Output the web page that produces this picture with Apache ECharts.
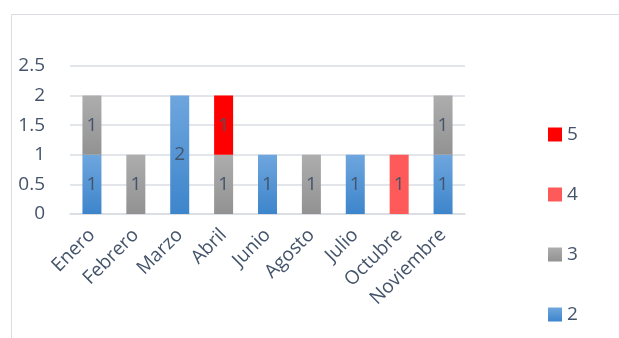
<!DOCTYPE html>
<html>
<head>
<meta charset="utf-8">
<script src="https://cdn.jsdelivr.net/npm/echarts@6/dist/echarts.min.js"></script>
<style>
html,body{margin:0;padding:0;background:#fff;}
#c{width:619px;height:338px;}
</style>
</head>
<body>
<div id="c"></div>
<script>
var categories = ['Enero','Febrero','Marzo','Abril','Junio','Agosto','Julio','Octubre','Noviembre'];
var seriesNames = ['2','3','4','5'];
var values2 = [1, null, 2, null, 1, null, 1, null, 1];
var values3 = [1, 1, null, 1, null, 1, null, null, 1];
var values4 = [null, null, null, null, null, null, null, 1, null];
var values5 = [null, null, null, 1, null, null, null, null, null];
var yTicks = [0, 0.5, 1, 1.5, 2, 2.5];

var textColor = '#44546a';
var font = 'Open Sans';
var fs = 19;
function grad(a, b) {
  return {type:'linear', x:0, y:0, x2:0, y2:1, colorStops:[{offset:0,color:a},{offset:1,color:b}]};
}
var colors = [grad('#6ea6de','#3d85cb'), grad('#adadad','#929292'), '#ff5a5a', '#ff0000'];
var dataSets = [values2, values3, values4, values5];

var series = seriesNames.map(function(n, i){
  return {
    name: n, type: 'bar', stack: 's', barWidth: 19,
    data: dataSets[i],
    itemStyle: {color: colors[i]},
    label: {show: true, position: 'inside', color: textColor, fontFamily: font, fontSize: fs},
    emphasis: {disabled: true}
  };
});

var chart = echarts.init(document.getElementById('c'));
chart.setOption({
  animation: false,
  graphic: [{type:'rect', left: 9, top: 12, shape:{width: 800, height: 500}, style:{fill:'none', stroke:'#d9dce3', lineWidth:1}, silent:true}],
  grid: {left: 70, right: 154, top: 66, bottom: 124, containLabel: false},
  legend: {
    orient: 'vertical', left: 543, top: 120, height: 240,
    data: ['5','4','3','2'],
    itemWidth: 14, itemHeight: 14, itemGap: 41,
    icon: 'rect',
    textStyle: {color: textColor, fontFamily: font, fontSize: fs, padding:[0,0,0,0]},
    selectedMode: false
  },
  xAxis: {
    type: 'category', data: categories,
    axisLine: {show: true, lineStyle: {color: '#d9dce3', width: 1.5}},
    axisTick: {show: false},
    axisLabel: {rotate: 45, color: textColor, fontFamily: font, fontSize: fs, margin: 18, interval: 0}
  },
  yAxis: {
    type: 'value', min: 0, max: 2.5, interval: 0.5,
    axisLine: {show: false}, axisTick: {show: false},
    splitLine: {lineStyle: {color: '#d9dce3', width: 1.5}},
    axisLabel: {color: textColor, fontFamily: font, fontSize: fs, margin: 25,
      formatter: function(v){ return yTicks.indexOf(v) >= 0 ? String(v) : ''; }}
  },
  series: series
});
</script>
</body>
</html>
